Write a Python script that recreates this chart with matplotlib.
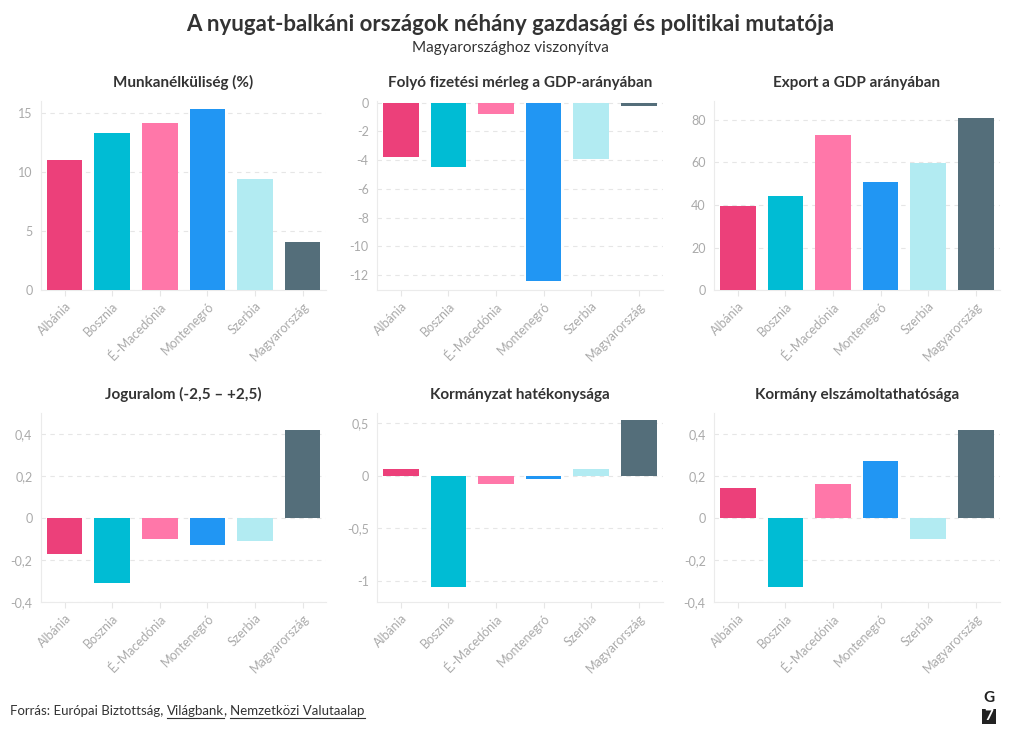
import matplotlib
matplotlib.use("Agg")
import matplotlib.pyplot as plt
import matplotlib.ticker as mticker
from matplotlib.patches import FancyBboxPatch

plt.rcParams["font.family"] = ["Lato", "DejaVu Sans"]

countries = ["Albánia", "Bosznia", "É.-Macedónia", "Montenegró", "Szerbia", "Magyarország"]
colors = ["#EC407A", "#00BCD4", "#FF77A9", "#2196F3", "#B2EBF2", "#546E7A"]

unemployment = [11.0, 13.3, 14.1, 15.3, 9.4, 4.1]
current_account = [-3.8, -4.5, -0.8, -12.4, -3.9, -0.2]
exports = [39.5, 44.0, 72.7, 50.6, 59.8, 81.1]
rule_of_law = [-0.17, -0.31, -0.10, -0.13, -0.11, 0.42]
gov_effect = [0.07, -1.06, -0.08, -0.03, 0.07, 0.53]
accountability = [0.14, -0.33, 0.16, 0.27, -0.10, 0.42]

panels = [
    ("Munkanélküliség (%)", unemployment, (0, 16), [0, 5, 10, 15]),
    ("Folyó fizetési mérleg a GDP-arányában", current_account, (-13.05, 0.14), [0, -2, -4, -6, -8, -10, -12]),
    ("Export a GDP arányában", exports, (0, 89), [0, 20, 40, 60, 80]),
    ("Joguralom (-2,5 – +2,5)", rule_of_law, (-0.4, 0.5), [-0.4, -0.2, 0, 0.2, 0.4]),
    ("Kormányzat hatékonysága", gov_effect, (-1.2, 0.6), [-1, -0.5, 0, 0.5]),
    ("Kormány elszámoltathatósága", accountability, (-0.4, 0.5), [-0.4, -0.2, 0, 0.2, 0.4]),
]

TICK = "#aaaaaa"
GRID = "#e6e6e6"
TEXT = "#333333"

fig = plt.figure(figsize=(10.2, 7.45), dpi=100)
fig.patch.set_facecolor("white")

lefts = [0.040, 0.3696, 0.700]
bottoms = [0.6107, 0.1919]
W, H = 0.280, 0.254


def fmt(v, _pos):
    return f"{v:g}".replace(".", ",")


for i, (title, vals, ylim, ticks) in enumerate(panels):
    ax = fig.add_axes([lefts[i % 3], bottoms[i // 3], W, H])
    x = range(len(countries))
    ax.bar(x, vals, width=0.75, color=colors, zorder=3, linewidth=0)
    ax.set_xlim(-0.5, 5.5)
    ax.set_ylim(*ylim)
    ax.set_yticks(ticks)
    ax.yaxis.set_major_formatter(mticker.FuncFormatter(fmt))
    ax.set_xticks(list(x))
    ax.set_xticklabels(countries, rotation=45, ha="right", rotation_mode="anchor")
    ax.tick_params(axis="x", colors=GRID, labelcolor=TICK, labelsize=9, length=4, pad=3)
    ax.tick_params(axis="y", length=0, labelcolor=TICK, labelsize=9, pad=6)
    ax.grid(axis="y", color=GRID, linestyle=(0, (4, 4)), linewidth=0.8, zorder=0)
    for side in ["top", "right"]:
        ax.spines[side].set_visible(False)
    for side in ["left", "bottom"]:
        ax.spines[side].set_color("#ebebeb")
        ax.spines[side].set_linewidth(0.8)
    ax.set_title(title, fontsize=11, fontweight="bold", color=TEXT, pad=10)

fig.text(0.5, 0.967, "A nyugat-balkáni országok néhány gazdasági és politikai mutatója",
         ha="center", va="center", fontsize=16, fontweight="bold", color=TEXT)
fig.text(0.5, 0.936, "Magyarországhoz viszonyítva", ha="center", va="center",
         fontsize=11, color=TEXT)

# source line with underlined links
fig.canvas.draw()
renderer = fig.canvas.get_renderer()
parts = [("Forrás: Európai Biztottság, ", False), ("Világbank", True),
         (", ", False), ("Nemzetközi Valutaalap", True)]
xpix = 10
ypix = 745 - 715
for txt, underline in parts:
    t = fig.text(xpix / 1020, ypix / 745, txt, fontsize=9.5, color=TEXT,
                 ha="left", va="baseline")
    bb = t.get_window_extent(renderer)
    if underline:
        fig.add_artist(plt.Line2D([bb.x0 / 1020, bb.x1 / 1020],
                                  [(ypix - 2.5) / 745, (ypix - 2.5) / 745],
                                  color=TEXT, linewidth=0.8))
    xpix = bb.x1

# G7 logo
fig.text(989 / 1020, 1 - 698 / 745, "G", ha="center", va="center",
         fontsize=11, fontweight="bold", color="#222222")
fig.patches.append(FancyBboxPatch((982 / 1020, 1 - 724 / 745), 14 / 1020, 15 / 745,
                                  boxstyle="square,pad=0", transform=fig.transFigure,
                                  facecolor="#222222", edgecolor="none"))
fig.text(989 / 1020, 1 - 716.5 / 745, "7", ha="center", va="center",
         fontsize=11, fontweight="bold", color="white")

fig.savefig("out.png", dpi=100, facecolor="white")
